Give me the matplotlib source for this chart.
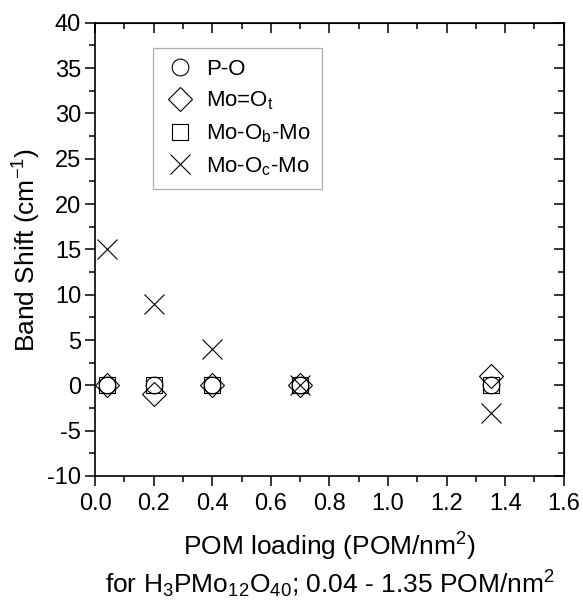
import matplotlib.pyplot as plt
from matplotlib.ticker import MultipleLocator

plt.rcParams['font.family'] = ['Liberation Sans', 'DejaVu Sans']
plt.rcParams['mathtext.fontset'] = 'custom'
plt.rcParams['mathtext.rm'] = 'Liberation Sans'
plt.rcParams['axes.unicode_minus'] = False

# POM loading (POM/nm2)
loading = [0.04, 0.2, 0.4, 0.7, 1.35]

# band shifts (cm-1)
p_o = [0, 0, 0, 0, 0]
mo_ot = [0, -1, 0, 0, 1]
mo_ob_mo = [0, 0, 0, 0, 0]
mo_oc_mo = [15, 9, 4, 0, -3]

labels = ['P-O', r'Mo=O$\mathregular{_t}$', r'Mo-O$\mathregular{_b}$-Mo', r'Mo-O$\mathregular{_c}$-Mo']

fig = plt.figure(figsize=(5.83, 6.01), dpi=100)
ax = fig.add_axes([0.163, 0.208, 0.804, 0.754])

style = dict(linestyle='none', markerfacecolor='none', markeredgecolor='black', markeredgewidth=0.8)
ax.plot(loading, p_o, marker='o', markersize=12, label=labels[0], **style)
ax.plot(loading, mo_ot, marker='D', markersize=12, label=labels[1], **style)
ax.plot(loading, mo_ob_mo, marker='s', markersize=11, label=labels[2], **style)
ax.plot(loading, mo_oc_mo, marker='x', markersize=15, label=labels[3], color='black',
        linestyle='none', markeredgewidth=0.8)

ax.set_xlim(0, 1.6)
ax.set_ylim(-10, 40)
ax.xaxis.set_major_locator(MultipleLocator(0.2))
ax.xaxis.set_minor_locator(MultipleLocator(0.1))
ax.yaxis.set_major_locator(MultipleLocator(5))
ax.yaxis.set_minor_locator(MultipleLocator(2.5))
ax.xaxis.set_major_formatter(plt.FuncFormatter(lambda v, p: f'{v:.1f}'))

for s in ax.spines.values():
    s.set_linewidth(1.2)
ax.tick_params(which='both', direction='out', top=False, right=False, labelsize=17, width=1.1)
ax.tick_params(which='major', length=7)
ax.tick_params(which='minor', length=4)
ax.tick_params(axis='x', pad=5)
ax.tick_params(axis='y', pad=3)
# mirrored inward ticks on top/right
ax2 = ax.secondary_xaxis('top')
ax2.xaxis.set_major_locator(MultipleLocator(0.2))
ax2.xaxis.set_minor_locator(MultipleLocator(0.1))
ax2.tick_params(which='both', direction='in', labeltop=False, width=1.1)
ax2.tick_params(which='major', length=7)
ax2.tick_params(which='minor', length=4)
ay2 = ax.secondary_yaxis('right')
ay2.yaxis.set_major_locator(MultipleLocator(5))
ay2.yaxis.set_minor_locator(MultipleLocator(2.5))
ay2.tick_params(which='both', direction='in', labelright=False, width=1.1)
ay2.tick_params(which='major', length=7)
ay2.tick_params(which='minor', length=4)

ax.set_ylabel(r'Band Shift (cm$\mathregular{^{-1}}$)', fontsize=19)
ax.yaxis.label.set_va('center')
ax.yaxis.set_label_coords(-0.145, 0.5)
fig.text(0.566, 0.09, r'POM loading (POM/nm$\mathregular{^2}$)', ha='center', va='center', fontsize=19)
fig.text(0.566, 0.027, r'for H$\mathregular{_3}$PMo$\mathregular{_{12}}$O$\mathregular{_{40}}$; 0.04 - 1.35 POM/nm$\mathregular{^2}$',
         ha='center', va='center', fontsize=19)

leg = ax.legend(loc='upper left', bbox_to_anchor=(0.124, 0.945), borderaxespad=0, fontsize=16,
                frameon=True, fancybox=False, edgecolor='#999999', handletextpad=0.5,
                borderpad=0.5, labelspacing=0.45, handlelength=1.4)
leg.get_frame().set_linewidth(0.9)

fig.savefig('out.png', dpi=100)
